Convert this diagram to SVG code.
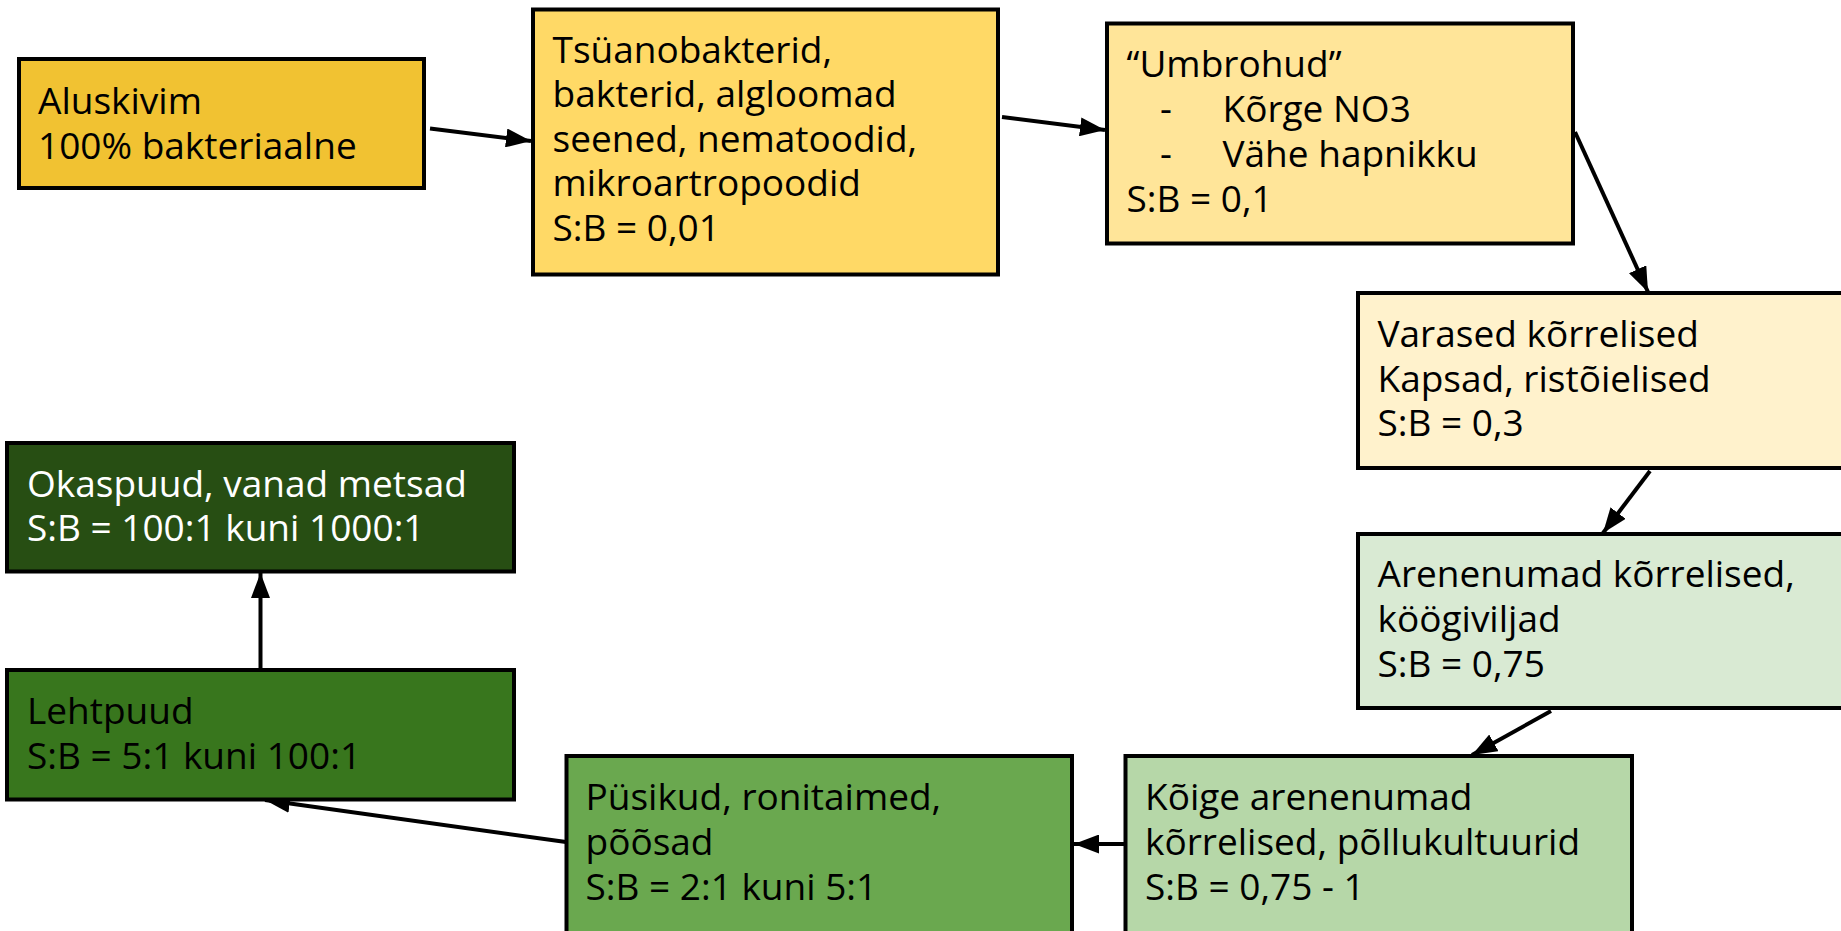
<svg xmlns="http://www.w3.org/2000/svg" width="1841" height="931" viewBox="0 0 1841 931">
<defs>
<style>
.box{stroke:#000;stroke-width:4}
.t{font-family:"Open Sans","Noto Sans","DejaVu Sans",sans-serif;font-size:37px;fill:#000}
.w{fill:#fff}
.c{stroke:#000;stroke-width:4;fill:none}
</style>
<marker id="ah" markerUnits="userSpaceOnUse" markerWidth="25" markerHeight="19" viewBox="0 0 25 19" refX="25" refY="9.5" orient="auto">
<path d="M0,0 L25,9.5 L0,19 Z" fill="#000"/>
</marker>
</defs>
<rect width="1841" height="931" fill="#fff"/>
<g id="connectors">
<line class="c" x1="430" y1="128.5" x2="531" y2="141" marker-end="url(#ah)"/>
<line class="c" x1="1002" y1="117" x2="1105" y2="130" marker-end="url(#ah)"/>
<line class="c" x1="1575" y1="132" x2="1648" y2="292" marker-end="url(#ah)"/>
<line class="c" x1="1650" y1="471" x2="1603" y2="533" marker-end="url(#ah)"/>
<line class="c" x1="1551" y1="711" x2="1472" y2="755" marker-end="url(#ah)"/>
<line class="c" x1="1124" y1="844" x2="1074" y2="844" marker-end="url(#ah)"/>
<line class="c" x1="566" y1="842" x2="265" y2="800" marker-end="url(#ah)"/>
<line class="c" x1="260.5" y1="668" x2="260.5" y2="573" marker-end="url(#ah)"/>
</g>
<g id="n1">
<rect class="box" x="19" y="59" width="405" height="129" fill="#f1c232"/>
<text class="t" x="38" y="113.5">Aluskivim</text>
<text class="t" x="38" y="158.5">100% bakteriaalne</text>
</g>
<g id="n2">
<rect class="box" x="533" y="9.5" width="465" height="265" fill="#ffd966"/>
<text class="t" x="552.5" y="62.5">Tsüanobakterid,</text>
<text class="t" x="552.5" y="107">bakterid, algloomad</text>
<text class="t" x="552.5" y="151.5">seened, nematoodid,</text>
<text class="t" x="552.5" y="196">mikroartropoodid</text>
<text class="t" x="552.5" y="240.5">S:B = 0,01</text>
</g>
<g id="n3">
<rect class="box" x="1107" y="23.5" width="466" height="220" fill="#ffe599"/>
<text class="t" x="1126.5" y="77">“Umbrohud”</text>
<text class="t" x="1160" y="122">-</text>
<text class="t" x="1222.5" y="122">Kõrge NO3</text>
<text class="t" x="1160" y="166.5">-</text>
<text class="t" x="1222.5" y="166.5">Vähe hapnikku</text>
<text class="t" x="1126.5" y="211.5">S:B = 0,1</text>
</g>
<g id="n4">
<rect class="box" x="1358" y="293" width="490" height="175" fill="#fff2cc"/>
<text class="t" x="1377.5" y="347">Varased kõrrelised</text>
<text class="t" x="1377.5" y="391.5">Kapsad, ristõielised</text>
<text class="t" x="1377.5" y="436">S:B = 0,3</text>
</g>
<g id="n5">
<rect class="box" x="1358" y="534" width="490" height="174" fill="#d9ead3"/>
<text class="t" x="1377.5" y="586.5">Arenenumad kõrrelised,</text>
<text class="t" x="1377.5" y="631.5">köögiviljad</text>
<text class="t" x="1377.5" y="676.5">S:B = 0,75</text>
</g>
<g id="n6">
<rect class="box" x="1125.5" y="756" width="506.5" height="180" fill="#b6d7a8"/>
<text class="t" x="1145" y="810">Kõige arenenumad</text>
<text class="t" x="1145" y="855">kõrrelised, põllukultuurid</text>
<text class="t" x="1145" y="899.5">S:B = 0,75 - 1</text>
</g>
<g id="n7">
<rect class="box" x="566.5" y="756" width="505.5" height="180" fill="#6aa84f"/>
<text class="t" x="585.5" y="810">Püsikud, ronitaimed,</text>
<text class="t" x="585.5" y="855">põõsad</text>
<text class="t" x="585.5" y="899.5">S:B = 2:1 kuni 5:1</text>
</g>
<g id="n8">
<rect class="box" x="7" y="670" width="507" height="129.5" fill="#38761d"/>
<text class="t" x="27" y="723.5">Lehtpuud</text>
<text class="t" x="27" y="768.5">S:B = 5:1 kuni 100:1</text>
</g>
<g id="n9">
<rect class="box" x="7" y="443" width="507" height="128.5" fill="#274e13"/>
<text class="t w" x="27" y="496.5">Okaspuud, vanad metsad</text>
<text class="t w" x="27" y="541">S:B = 100:1 kuni 1000:1</text>
</g>
</svg>
